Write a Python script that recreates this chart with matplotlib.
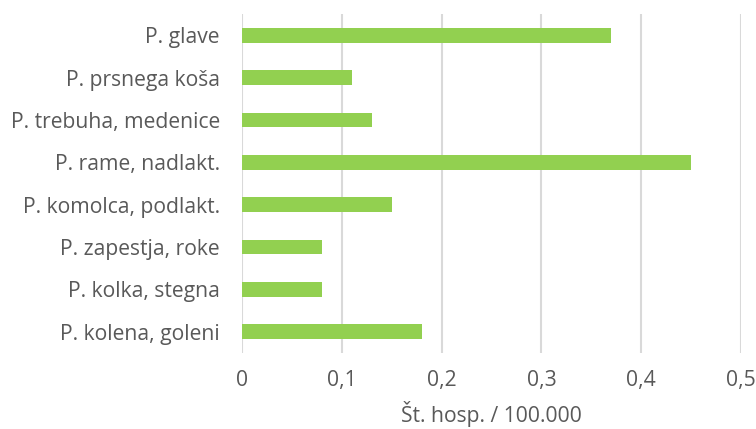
import matplotlib.pyplot as plt
import numpy as np

categories = [
    "P. glave",
    "P. prsnega koša",
    "P. trebuha, medenice",
    "P. rame, nadlakt.",
    "P. komolca, podlakt.",
    "P. zapestja, roke",
    "P. kolka, stegna",
    "P. kolena, goleni",
]
values = [0.37, 0.11, 0.13, 0.45, 0.15, 0.08, 0.08, 0.18]
xticks = [0, 0.1, 0.2, 0.3, 0.4, 0.5]
xtick_labels = ["0", "0,1", "0,2", "0,3", "0,4", "0,5"]
xlabel = "Št. hosp. / 100.000"

plt.rcParams["font.family"] = ["Open Sans", "DejaVu Sans"]
text_color = "#595959"

W, H = 756, 429
fig = plt.figure(figsize=(W / 100, H / 100), dpi=100)
ax = fig.add_axes([242 / W, 1 - 353 / H, (741 - 242) / W, (353 - 14) / H])

y = np.arange(len(categories))
ax.barh(y, values, height=0.35, color="#92D050", zorder=3)
ax.set_ylim(len(categories) - 0.5, -0.5)
ax.set_xlim(0, 0.5)

ax.set_xticks(xticks)
ax.set_xticklabels(xtick_labels)
ax.set_yticks(y)
ax.set_yticklabels(categories)
ax.tick_params(axis="both", length=0, labelsize=15.2, colors=text_color)
ax.tick_params(axis="x", pad=12)
ax.tick_params(axis="y", pad=16)

ax.grid(axis="x", color="#D9D9D9", linewidth=1.5, zorder=0)
for s in ax.spines.values():
    s.set_visible(False)

ax.set_xlabel(xlabel, fontsize=15.2, color=text_color, labelpad=7.5)

fig.savefig("out.png", dpi=100)
